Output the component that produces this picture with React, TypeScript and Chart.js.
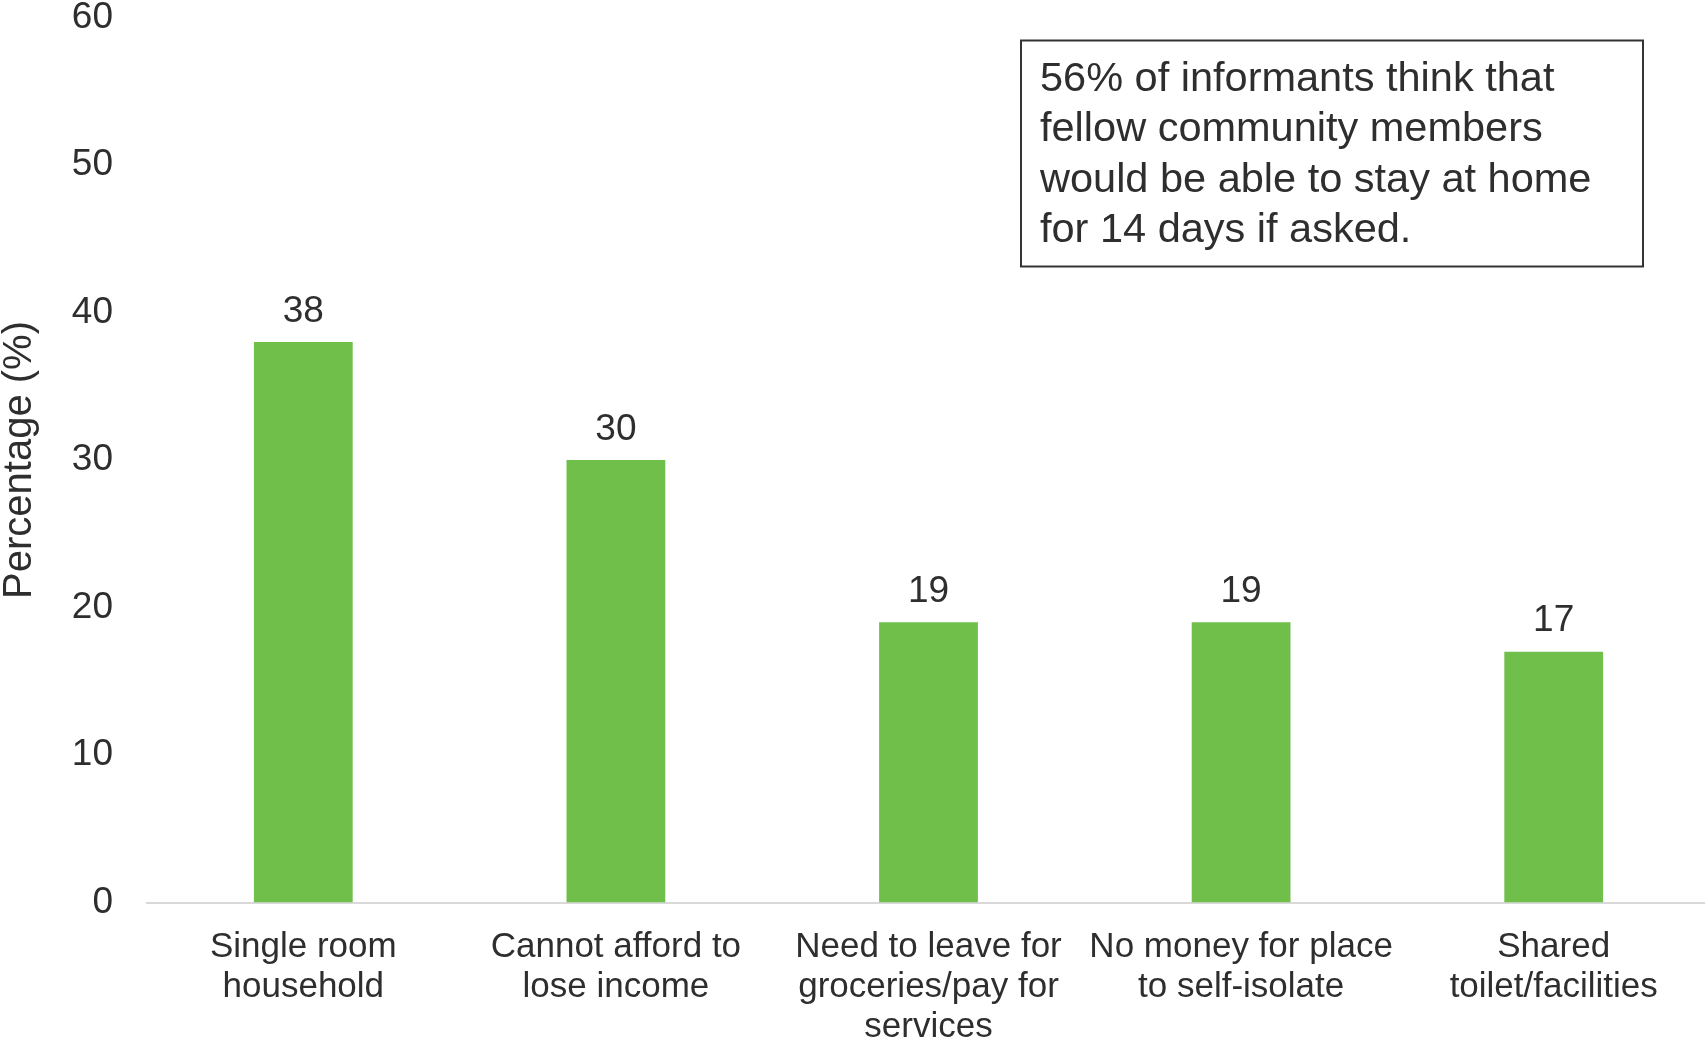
import React, { useEffect, useRef } from "react";
import { Chart, registerables } from "chart.js";

Chart.register(...registerables);

const categories: string[][] = [
  ["Single room", "household"],
  ["Cannot afford to", "lose income"],
  ["Need to leave for", "groceries/pay for", "services"],
  ["No money for place", "to self-isolate"],
  ["Shared", "toilet/facilities"],
];
const values: number[] = [38, 30, 19, 19, 17];
const yTicks: number[] = [0, 10, 20, 30, 40, 50, 60];
const yTitle = "Percentage (%)";
const noteLines: string[] = [
  "56% of informants think that",
  "fellow community members",
  "would be able to stay at home",
  "for 14 days if asked.",
];

const FONT = "'Liberation Sans', Arial, sans-serif";
const TEXT = "#2e2e2e";
const GREEN = "#6FBF4A";

const valueLabels = {
  id: "valueLabels",
  afterDatasetsDraw(chart: any) {
    const ctx = chart.ctx;
    const meta = chart.getDatasetMeta(0);
    ctx.save();
    ctx.font = `37px ${FONT}`;
    ctx.fillStyle = TEXT;
    ctx.textAlign = "center";
    ctx.textBaseline = "bottom";
    meta.data.forEach((bar: any, i: number) => {
      ctx.fillText(String(values[i]), bar.x, bar.y - 12);
    });
    ctx.restore();
  },
};

const noteBox = {
  id: "noteBox",
  afterDraw(chart: any) {
    const ctx = chart.ctx;
    const a = chart.chartArea;
    const x0 = a.left + 874;
    const y0 = a.top + 23;
    const w = 622;
    const h = 226;
    ctx.save();
    ctx.fillStyle = "#ffffff";
    ctx.fillRect(x0, y0, w, h);
    ctx.strokeStyle = "#333333";
    ctx.lineWidth = 2;
    ctx.strokeRect(x0, y0, w, h);
    ctx.font = `41.5px ${FONT}`;
    ctx.fillStyle = TEXT;
    ctx.textAlign = "left";
    ctx.textBaseline = "middle";
    noteLines.forEach((line, i) => {
      ctx.fillText(line, x0 + 19, y0 + 39 + i * 50.5);
    });
    ctx.restore();
  },
};

export default function App() {
  const ref = useRef<HTMLCanvasElement | null>(null);
  useEffect(() => {
    if (!ref.current) return;
    const chart = new Chart(ref.current, {
      type: "bar",
      data: {
        labels: categories,
        datasets: [
          {
            data: values,
            backgroundColor: GREEN,
            borderWidth: 0,
            categoryPercentage: 1,
            barPercentage: 0.316,
          },
        ],
      },
      options: {
        animation: false,
        responsive: false,
        maintainAspectRatio: false,
        layout: { padding: { top: 17.5, right: 0, bottom: 0, left: 0 } },
        plugins: {
          legend: { display: false },
          tooltip: { enabled: false },
        },
        scales: {
          x: {
            grid: { display: false, drawTicks: false },
            border: { display: true, color: "#d9d9d9", width: 2 },
            ticks: {
              color: TEXT,
              font: { family: FONT, size: 35, lineHeight: 1.14 },
              padding: 25,
              maxRotation: 0,
              autoSkip: false,
            },
            afterFit(scale: any) {
              scale.height = 140.5;
              scale.paddingLeft = 0;
              scale.paddingRight = 0;
            },
          },
          y: {
            min: 0,
            max: 60,
            grid: { display: false, drawTicks: false },
            border: { display: false },
            afterBuildTicks(scale: any) {
              scale.ticks = yTicks.map((v) => ({ value: v }));
            },
            ticks: {
              color: TEXT,
              font: { family: FONT, size: 37, lineHeight: 0.95 },
              padding: 34,
            },
            title: {
              display: true,
              text: yTitle,
              color: TEXT,
              font: { family: FONT, size: 40, lineHeight: 1.0 },
              padding: 0,
            },
            afterFit(scale: any) {
              scale.width = 147;
              scale.paddingTop = 0;
              scale.paddingBottom = 0;
            },
          },
        },
      },
      plugins: [valueLabels, noteBox],
    });
    return () => chart.destroy();
  }, []);
  return (
    <div style={{ position: "absolute", left: 0, top: 0, width: 1705, height: 1043, background: "#fff", overflow: "hidden" }}>
      <canvas ref={ref} width={1710} height={1043} style={{ display: "block" }} />
    </div>
  );
}
